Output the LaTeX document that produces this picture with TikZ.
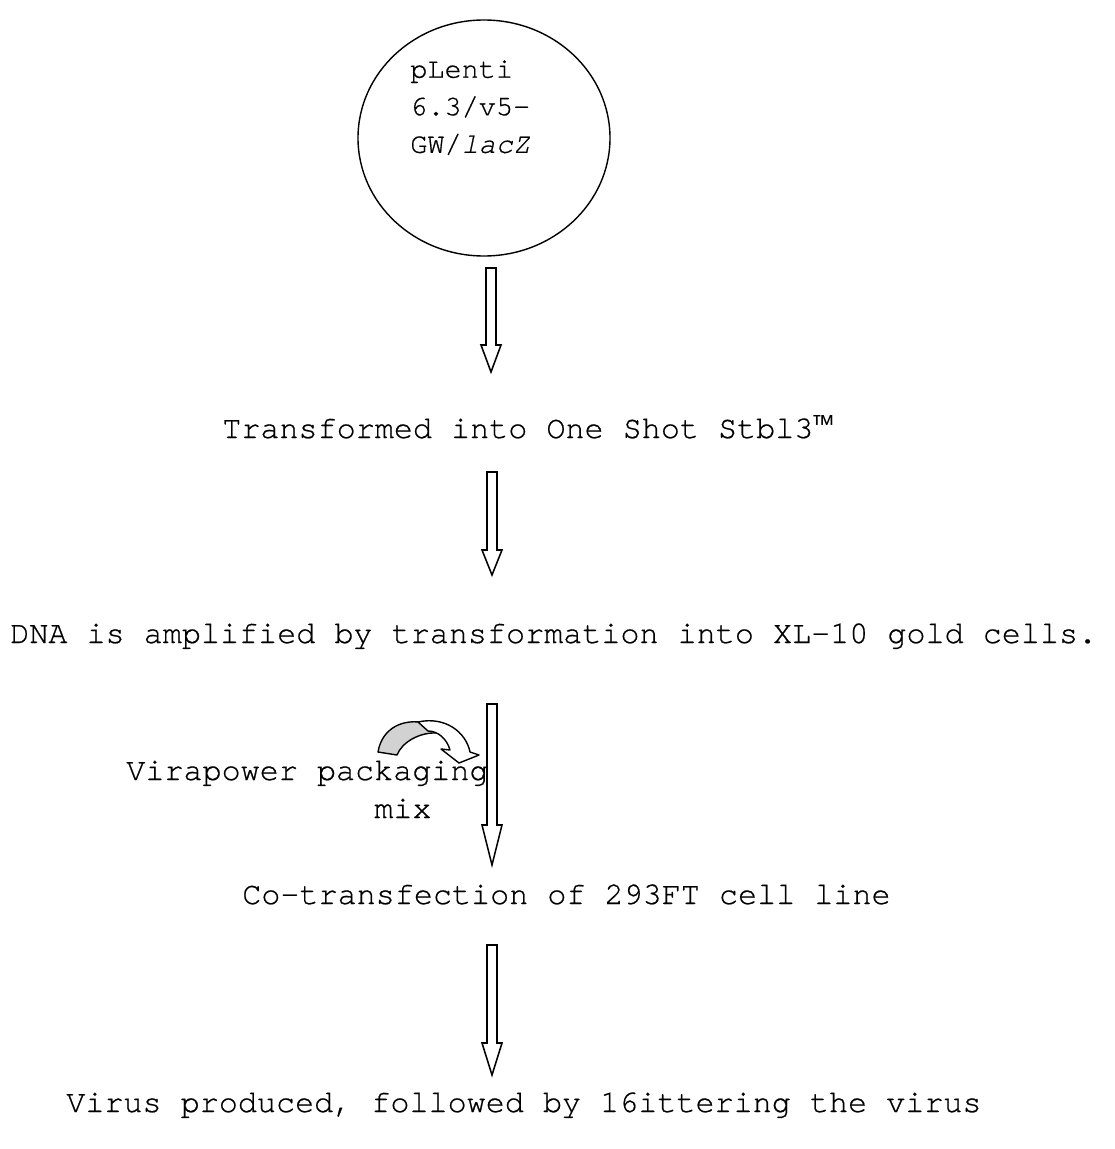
\documentclass[tikz,border=0pt]{standalone}
\usepackage{fontspec}
\setmonofont{texgyrecursor}[Extension=.otf,UprightFont=*-regular,ItalicFont=*-italic,BoldFont=*-bold,Ligatures=NoCommon,FakeBold=0.6]
\newfontfamily\tmfont{Liberation Mono}
\usetikzlibrary{calc,shapes.geometric}
\tikzset{
  steptxt/.style={font=\fontsize{22.6}{27}\selectfont\ttfamily,inner sep=0pt,anchor=base west},
  vectxt/.style={font=\fontsize{20.3}{26.7}\selectfont\ttfamily,inner sep=0pt,align=left,anchor=north west},
  vecblk/.style={draw,ellipse,line width=1pt,inner sep=0pt,minimum width=252*0.025cm,minimum height=236*0.025cm},
  hollowarr/.style={draw,line width=1.1pt,fill=white,line join=miter},
  mixarr/.style={draw,line width=1pt,line join=round}
}
% hollow block arrow: shaft top, head base, tip
\newcommand{\hollowarrow}[3]{%
  \draw[hollowarr] ($(#1)+(-5,0)$) -- ($(#2)+(-5,0)$) -- ($(#2)+(-10,0)$) -- (#3)
    -- ($(#2)+(10,0)$) -- ($(#2)+(5,0)$) -- ($(#1)+(5,0)$) -- cycle;}
\begin{document}
\begin{tikzpicture}[x=0.025cm,y=-0.025cm]
  \useasboundingbox (0,0) rectangle (1115,1149);

  % vector
  \node[vecblk] (vec) at (484,138) {};
  \node[vectxt] (vectext) at (410,60) {pLenti\\6.3/v5-\\GW/\textit{lacZ}};

  % steps
  \node[steptxt] (transf) at (222,438) {Transformed into One Shot Stbl3{\tmfont ™}};
  \node[steptxt] (amplif) at (10,643) {DNA is amplified by transformation into XL-10 gold cells.};
  \node[steptxt] (vira) at (126,780) {Virapower packaging};
  \node[steptxt] (viramix) at (374,818) {mix};
  \node[steptxt] (cotrans) at (242,904) {Co-transfection of 293FT cell line};
  \node[steptxt] (virus) at (66,1112) {Virus produced, followed by 16ittering the virus};

  % arrow ends
  \coordinate (a1top) at (491,268); \coordinate (a1head) at (491,345); \coordinate (a1tip) at (491,372);
  \coordinate (a2top) at (492,472); \coordinate (a2head) at (492,550); \coordinate (a2tip) at (492,575);
  \coordinate (a3top) at (492,704); \coordinate (a3head) at (492,825); \coordinate (a3tip) at (492,865);
  \coordinate (a4top) at (492,945); \coordinate (a4head) at (492,1043); \coordinate (a4tip) at (492,1075);

  \hollowarrow{a1top}{a1head}{a1tip}
  \hollowarrow{a2top}{a2head}{a2tip}
  \hollowarrow{a3top}{a3head}{a3tip}
  \hollowarrow{a4top}{a4head}{a4tip}

  % packaging mix curved arrow
  \draw[mixarr,fill=gray!35] (378,752) .. controls (382,728) and (403,718) .. (426,723)
    -- (437,733) .. controls (420,732) and (402,742) .. (397,755) -- cycle;
  \draw[mixarr,fill=white] (418,722) .. controls (445,716) and (466,732) .. (470,752)
    -- (479,755) -- (459,763) -- (441,749) -- (450,750)
    .. controls (447,739) and (438,731) .. (428,731) -- cycle;
\end{tikzpicture}
\end{document}
